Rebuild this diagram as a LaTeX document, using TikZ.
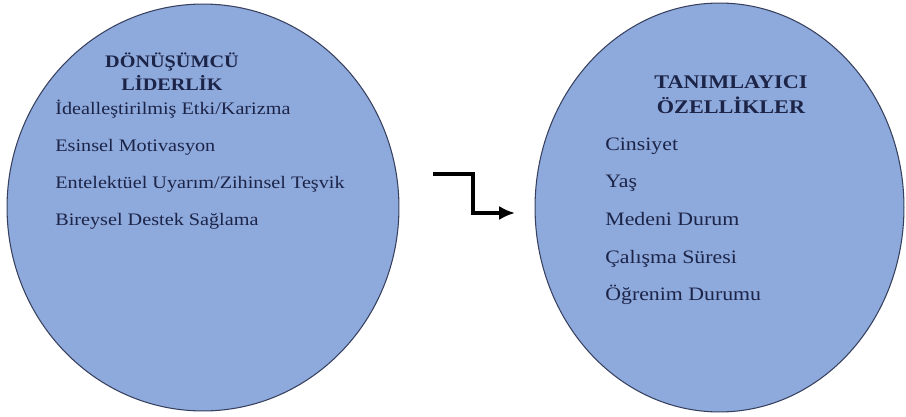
\documentclass[tikz,border=0pt]{standalone}
\usepackage{fontspec}
\setmainfont[FakeStretch=1.15]{Liberation Serif}
\usetikzlibrary{shapes.geometric,arrows.meta}
\definecolor{daire}{RGB}{142,169,219}
\definecolor{cizgi}{RGB}{55,65,95}
\definecolor{yazi}{RGB}{28,36,72}
\tikzset{
  kume/.style={ellipse,draw=cizgi,line width=.6pt,fill=daire,inner sep=0pt},
  baslik/.style={font=\bfseries,text=yazi,align=center,inner sep=0pt,anchor=base},
  madde/.style={text=yazi,inner sep=0pt,anchor=base west},
  ok/.style={line width=1.9pt,line join=miter,-{Latex[length=9pt,width=8pt]}}
}
\begin{document}
\begin{tikzpicture}[x=0.02cm,y=-0.02cm]
\useasboundingbox (0,0) rectangle (906,416);
\node[kume,minimum width=7.84cm,minimum height=8.14cm] (donusum) at (203,207.5) {};
\node[kume,minimum width=7.38cm,minimum height=8.18cm] (tanim) at (719.5,207.5) {};

\node[baslik,font=\fontsize{10}{13}\selectfont\bfseries] (donusum-baslik) at (172,90) {DÖNÜŞÜMCÜ\\LİDERLİK};
\foreach \t [count=\i] in {{İdealleştirilmiş Etki/Karizma},{Esinsel Motivasyon},{Entelektüel Uyarım/Zihinsel Teşvik},{Bireysel Destek Sağlama}}
    \node[madde,font=\fontsize{10}{12}\selectfont] (sol-\i) at (55,{114+37.3*(\i-1)}) {\t};

\node[baslik,font=\fontsize{11}{14.2}\selectfont\bfseries] (tanim-baslik) at (731,113) {TANIMLAYICI\\ÖZELLİKLER};
\foreach \t [count=\i] in {Cinsiyet,Yaş,Medeni Durum,Çalışma Süresi,Öğrenim Durumu}
    \node[madde,font=\fontsize{10.8}{13}\selectfont] (sag-\i) at (605,{150+37.7*(\i-1)}) {\t};

\coordinate (ok-bas) at (433,174);
\coordinate (ok-kirik) at (473,213);
\coordinate (ok-uc) at (515,213);
\draw[ok] (ok-bas) -| (ok-kirik) |- (ok-uc);
\end{tikzpicture}
\end{document}
